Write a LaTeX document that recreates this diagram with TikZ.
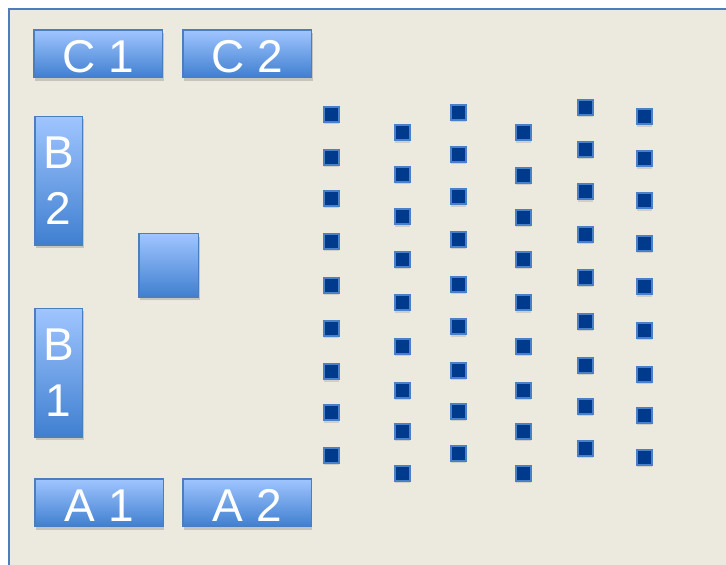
\documentclass[tikz,border=0pt]{standalone}
\usepackage{fontspec}
\newfontfamily\boxfont{Liberation Sans}
\usetikzlibrary{positioning,shadows}
\definecolor{paper}{HTML}{ECE9DF}
\definecolor{frameblue}{HTML}{4A7EBE}
\definecolor{boxtop}{HTML}{A0C5FF}
\definecolor{boxbot}{HTML}{3F7FD0}
\definecolor{seatblue}{HTML}{003A8C}
\definecolor{seatedge}{HTML}{4A80C8}

\begin{document}
\begin{tikzpicture}[x=1pt,y=-1pt,
  panel/.style={draw=frameblue,line width=1.5pt,top color=boxtop,bottom color=boxbot,
                text=white,font=\boxfont\fontsize{46}{56.7}\selectfont,align=center,
                inner sep=0pt,drop shadow={shadow xshift=1pt,shadow yshift=-3pt,opacity=.35}},
  wide/.style={panel,minimum width=128.5pt,minimum height=47.5pt,text height=37pt,text depth=0pt},
  tall/.style={panel,minimum width=47.8pt,minimum height=128.5pt},
  seat/.style={draw=seatedge,fill=seatblue,line width=2pt,minimum size=15pt,inner sep=0pt,
               drop shadow={shadow xshift=.5pt,shadow yshift=-2.5pt,opacity=.25}},
  node distance=19pt]
\clip (0,0) rectangle (726,565);
\fill[white] (0,0) rectangle (726,565);
\draw[draw=frameblue,line width=1.8pt,fill=paper] (9.2,9.2) rectangle (740,580);
% boards round the room
\node[wide] (c1) at (98.3,53.8) {C 1};
\node[wide,right=of c1] (c2) {C 2};
\node[tall] (b2) at (58.7,180.7) {B\\2};
\node[tall,below=62pt of b2] (b1) {B\\1};
\node[wide] (a1) at (99.2,502.8) {A 1};
\node[wide,right=18pt of a1] (a2) {A 2};
\node[panel,minimum width=59.5pt,minimum height=63.5pt] (desk) at (168.8,265.3) {};
% seats, one column at a time
\foreach \x/\ys [count=\i] in {
    331/{114,157,198,241,285,328,371.5,412.7,455},
    402/{132.7,174,216.7,259,302.7,346,390,431,473.3},
    458/{112,154,196.7,239,284,326.7,370,411,453.3},
    523/{132.7,175,217,259.3,302.7,346,390,431,473.3},
    585/{107.3,149.3,191.7,234,277.3,321.3,365,406,448.3},
    644/{116.7,158.7,200.7,243.3,286.7,330,374,415,457.3}}
  \foreach \y [count=\j] in \ys
    \node[seat] (s-\i-\j) at (\x,\y) {};
\end{tikzpicture}
\end{document}
